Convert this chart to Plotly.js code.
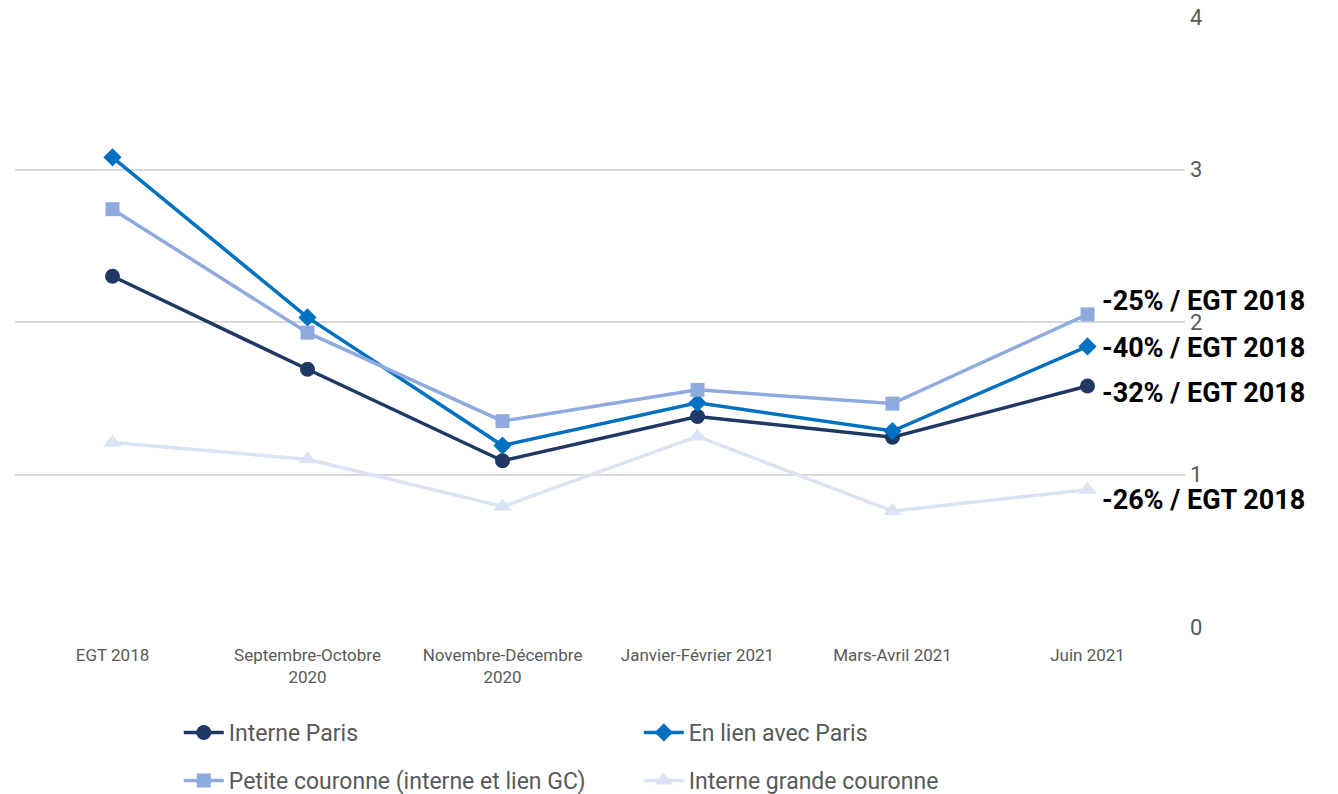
<!DOCTYPE html>
<html>
<head>
<meta charset="utf-8">
<script src="https://cdn.plot.ly/plotly-3.0.1.min.js"></script>
<style>
html,body{margin:0;padding:0;background:#fff;}
#chart{width:1338px;height:794px;}
</style>
</head>
<body>
<div id="chart"></div>
<script>
const categories = ["EGT 2018", "Septembre-Octobre<br>2020", "Novembre-Décembre<br>2020", "Janvier-Février 2021", "Mars-Avril 2021", "Juin 2021"];
const interneParis = [2.30, 1.69, 1.09, 1.38, 1.245, 1.58];
const enLienParis = [3.08, 2.03, 1.19, 1.47, 1.285, 1.84];
const petiteCouronne = [2.74, 1.93, 1.35, 1.555, 1.465, 2.05];
const interneGC = [1.21, 1.10, 0.79, 1.25, 0.76, 0.90];
const seriesNames = ["Interne Paris", "En lien avec Paris", "Petite couronne (interne et lien GC)", "Interne grande couronne"];
const endLabels = ["-32% / EGT 2018", "-40% / EGT 2018", "-25% / EGT 2018", "-26% / EGT 2018"];
const yTicks = [0, 1, 2, 3, 4];

const FONT = '"Roboto", "Liberation Sans", sans-serif';
const colors = ["#203864", "#0070C0", "#8FAADC", "#DAE3F3"];
const symbols = ["circle", "diamond", "square", "triangle-up"];
const sizes = [15, 14, 14, 16];
const legendIds = ["legend", "legend", "legend2", "legend2"];
const allSeries = [interneParis, enLienParis, petiteCouronne, interneGC];

const traces = allSeries.map((vals, i) => ({
  type: "scatter",
  mode: "lines+markers",
  x: categories,
  y: vals,
  name: seriesNames[i],
  legend: legendIds[i],
  line: {color: colors[i], width: 3.5},
  marker: {color: colors[i], symbol: symbols[i], size: sizes[i]},
  hoverinfo: "skip"
}));

// label vertical offsets in pixels, to avoid overlap
const labelShift = [-7, -2, 13, -10];
const annotations = allSeries.map((vals, i) => ({
  x: categories[categories.length - 1],
  y: vals[vals.length - 1],
  xref: "x", yref: "y",
  text: "<b>" + endLabels[i] + "</b>",
  showarrow: false,
  xanchor: "left",
  yanchor: "middle",
  xshift: 12,
  yshift: labelShift[i],
  font: {family: FONT, size: 27, color: "#000000"}
}));

const legendBase = {
  orientation: "h",
  xanchor: "left",
  yanchor: "top",
  entrywidth: 405, entrywidthmode: "pixels",
  font: {family: FONT, size: 23, color: "#595959"},
  itemwidth: 40,
  traceorder: "normal",
  bgcolor: "rgba(0,0,0,0)"
};

const layout = {
  width: 1338, height: 794,
  paper_bgcolor: "#ffffff", plot_bgcolor: "#ffffff",
  margin: {l: 15, r: 153, t: 17, b: 167, autoexpand: false},
  showlegend: true,
  legend: Object.assign({}, legendBase, {x: 0.140, y: -0.1377}),
  legend2: Object.assign({}, legendBase, {x: 0.140, y: -0.2164}),
  xaxis: {
    type: "category",
    range: [-0.5, 5.5],
    showgrid: false,
    zeroline: false,
    showline: false,
    ticks: "",
    ticklabelstandoff: 16,
    tickfont: {family: FONT, size: 17, color: "#595959"},
    fixedrange: true
  },
  yaxis: {
    side: "right",
    range: [0, 4],
    tickvals: yTicks,
    ticktext: yTicks.map(String),
    showgrid: true,
    gridcolor: "#D9D9D9",
    gridwidth: 2,
    zeroline: false,
    showline: false,
    ticks: "",
    ticklabelstandoff: 4,
    tickfont: {family: FONT, size: 22, color: "#595959"},
    fixedrange: true
  },
  annotations: annotations
};

Plotly.newPlot("chart", traces, layout, {displayModeBar: false, staticPlot: true});
</script>
</body>
</html>
